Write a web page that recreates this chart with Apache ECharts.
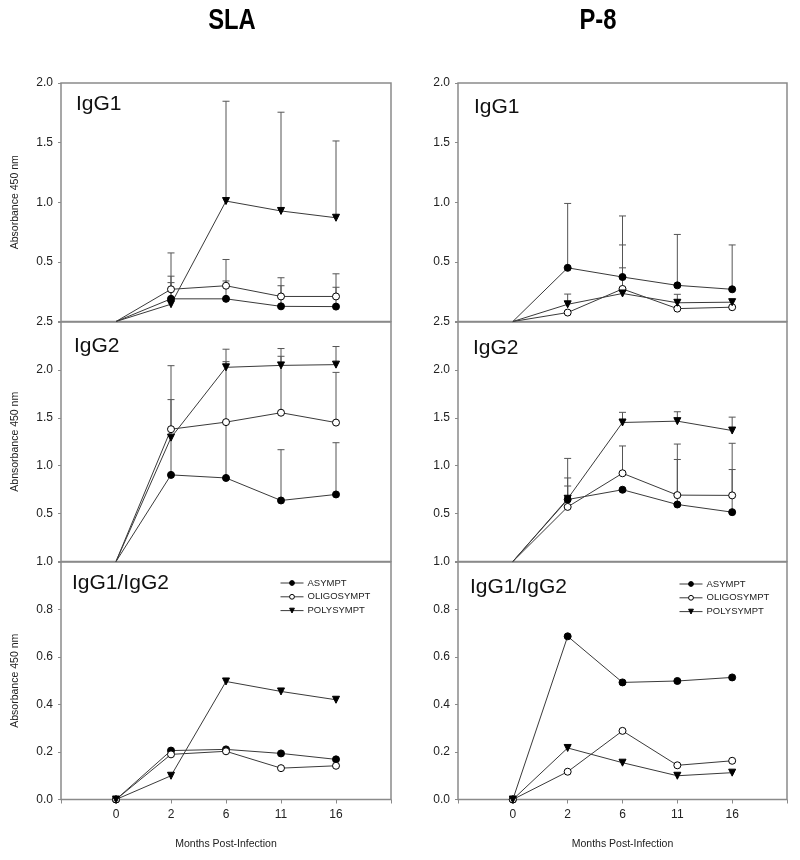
<!DOCTYPE html>
<html>
<head>
<meta charset="utf-8">
<script src="https://cdn.jsdelivr.net/npm/echarts@6/dist/echarts.min.js"></script>
<style>
html,body{margin:0;padding:0;background:#fff;}
#chart{width:800px;height:860px;}
</style>
</head>
<body>
<div id="chart"></div>
<script>
// ---------------- DATA ----------------
const monthLabels = ['0', '2', '6', '11', '16'];
const groupNames = ['ASYMPT', 'OLIGOSYMPT', 'POLYSYMPT'];
const columnTitles = ['SLA', 'P-8'];
const panelLabels = ['IgG1', 'IgG2', 'IgG1/IgG2'];

// SLA IgG1 (means, upper error magnitudes)
const slaIgG1Asympt = [0, 0.19, 0.19, 0.127, 0.125];
const slaIgG1Oligo  = [0, 0.27, 0.30, 0.21, 0.21];
const slaIgG1Poly   = [0, 0.145, 1.01, 0.927, 0.87];
const slaIgG1AsymptErr = [null, 0.19, 0.15, 0.173, 0.162];
const slaIgG1OligoErr  = [null, 0.305, 0.22, 0.157, 0.19];
const slaIgG1PolyErr   = [null, 0.181, 0.837, 0.828, 0.644];

// P-8 IgG1
const p8IgG1Asympt = [0, 0.45, 0.373, 0.303, 0.27];
const p8IgG1Oligo  = [0, 0.075, 0.273, 0.108, 0.12];
const p8IgG1Poly   = [0, 0.144, 0.235, 0.157, 0.162];
const p8IgG1AsymptErr = [null, 0.54, 0.512, 0.427, 0.372];
const p8IgG1OligoErr  = [null, null, 0.369, null, null];
const p8IgG1PolyErr   = [null, 0.086, 0.215, 0.071, null];

// SLA IgG2
const slaIgG2Asympt = [0, 0.904, 0.872, 0.637, 0.70];
const slaIgG2Oligo  = [0, 1.381, 1.455, 1.553, 1.45];
const slaIgG2Poly   = [0, 1.293, 2.027, 2.047, 2.055];
const slaIgG2AsymptErr = [null, 0.786, 1.214, 0.53, 0.54];
const slaIgG2OligoErr  = [null, 0.663, null, 0.589, 0.524];
const slaIgG2PolyErr   = [null, null, 0.189, 0.176, 0.189];

// P-8 IgG2
const p8IgG2Asympt = [0, 0.647, 0.749, 0.595, 0.515];
const p8IgG2Oligo  = [0, 0.57, 0.921, 0.693, 0.69];
const p8IgG2Poly   = [0, 0.655, 1.451, 1.465, 1.367];
const p8IgG2AsymptErr = [null, 0.429, null, 0.47, 0.445];
const p8IgG2OligoErr  = [null, 0.218, 0.285, 0.533, 0.544];
const p8IgG2PolyErr   = [null, 0.217, 0.106, 0.098, 0.14];

// IgG1/IgG2 ratio
const slaRatioAsympt = [0, 0.206, 0.211, 0.194, 0.169];
const slaRatioOligo  = [0, 0.19, 0.203, 0.132, 0.142];
const slaRatioPoly   = [0, 0.10, 0.497, 0.455, 0.42];
const p8RatioAsympt  = [0, 0.687, 0.493, 0.499, 0.514];
const p8RatioOligo   = [0, 0.117, 0.289, 0.144, 0.163];
const p8RatioPoly    = [0, 0.217, 0.155, 0.10, 0.113];

// y-axis tick settings per row
const rowYMax = [2.0, 2.5, 1.0];
const rowYStep = [0.5, 0.5, 0.2];
const yAxisNames = ['Absorbance 450 nm', 'Abnsorbance 450 nm', 'Absorbance 450 nm'];
const xAxisName = 'Months Post-Infection';

// ---------------- LAYOUT / STYLE ----------------
const FONT = "'Liberation Sans', Arial, Helvetica, sans-serif";
const colLeft = [61, 458];
const colWidth = [330, 329];
const rowTop = [83, 322, 562];
const rowHeight = [238.5, 239.5, 237.5];
const labelPos = [
  [[76, 104.5], [474, 107]],
  [[74, 346], [473, 348]],
  [[72, 583.5], [470, 587]]
];
const titleCenters = [232, 598];
const legendLeft = [280, 679];
const legendTop = [578, 579];

const lineColor = '#3a3a3a';
const errColor = '#555';
const frameColor = '#8a8a8a';
const symbolStyles = [
  { symbol: 'circle', size: 7, rotate: 0, fill: '#000' },
  { symbol: 'circle', size: 7, rotate: 0, fill: '#fff' },
  { symbol: 'triangle', size: 7, rotate: 180, fill: '#000' }
];

const panelData = [
  [ // row 0
    { means: [slaIgG1Asympt, slaIgG1Oligo, slaIgG1Poly], errs: [slaIgG1AsymptErr, slaIgG1OligoErr, slaIgG1PolyErr] },
    { means: [p8IgG1Asympt, p8IgG1Oligo, p8IgG1Poly], errs: [p8IgG1AsymptErr, p8IgG1OligoErr, p8IgG1PolyErr] }
  ],
  [ // row 1
    { means: [slaIgG2Asympt, slaIgG2Oligo, slaIgG2Poly], errs: [slaIgG2AsymptErr, slaIgG2OligoErr, slaIgG2PolyErr] },
    { means: [p8IgG2Asympt, p8IgG2Oligo, p8IgG2Poly], errs: [p8IgG2AsymptErr, p8IgG2OligoErr, p8IgG2PolyErr] }
  ],
  [ // row 2
    { means: [slaRatioAsympt, slaRatioOligo, slaRatioPoly], errs: null },
    { means: [p8RatioAsympt, p8RatioOligo, p8RatioPoly], errs: null }
  ]
];

// ---------------- BUILD OPTION ----------------
const grids = [], xAxes = [], yAxes = [], series = [], graphics = [], legends = [];
let gi = 0;
for (let r = 0; r < 3; r++) {
  for (let c = 0; c < 2; c++) {
    const isBottom = r === 2;
    grids.push({
      left: colLeft[c], top: rowTop[r], width: colWidth[c], height: rowHeight[r],
      show: true, borderColor: frameColor, borderWidth: 1.5, backgroundColor: 'transparent'
    });
    xAxes.push({
      gridIndex: gi, type: 'value', min: -1, max: monthLabels.length, interval: 1,
      axisLine: { show: false, onZero: false },
      splitLine: { show: false },
      axisTick: { show: isBottom, inside: false, length: 4, lineStyle: { color: frameColor, width: 1 } },
      axisLabel: {
        show: isBottom, margin: 9, color: '#222', fontSize: 12, fontFamily: FONT,
        formatter: v => (v >= 0 && v < monthLabels.length) ? monthLabels[v] : ''
      },
      name: isBottom ? xAxisName : '',
      nameLocation: 'middle', nameGap: 39,
      nameTextStyle: { color: '#222', fontSize: 10.5, fontFamily: FONT }
    });
    yAxes.push({
      gridIndex: gi, type: 'value', min: 0, max: rowYMax[r], interval: rowYStep[r],
      axisLine: { show: false, onZero: false },
      splitLine: { show: false },
      axisTick: { show: true, inside: false, length: 3, lineStyle: { color: frameColor, width: 1 } },
      axisLabel: {
        margin: 8, color: '#222', fontSize: 12, fontFamily: FONT,
        formatter: v => (r < 2 && v === 0) ? '' : v.toFixed(1)
      },
      name: c === 0 ? yAxisNames[r] : '',
      nameLocation: 'middle', nameGap: 40, nameRotate: 90,
      nameTextStyle: { color: '#222', fontSize: 10.5, fontFamily: FONT }
    });
    const pd = panelData[r][c];
    for (let s = 0; s < 3; s++) {
      const st = symbolStyles[s];
      const means = pd.means[s];
      // error bars (upper only)
      if (pd.errs) {
        const errData = [];
        pd.errs[s].forEach((e, i) => {
          if (e !== null) errData.push([i, means[i], means[i] + e]);
        });
        series.push({
          type: 'custom', xAxisIndex: gi, yAxisIndex: gi, z: 1, silent: true,
          encode: { x: 0, y: [1, 2] },
          data: errData,
          renderItem: (params, api) => {
            const p1 = api.coord([api.value(0), api.value(1)]);
            const p2 = api.coord([api.value(0), api.value(2)]);
            return {
              type: 'group',
              children: [
                { type: 'line', shape: { x1: p1[0], y1: p1[1], x2: p2[0], y2: p2[1] }, style: { stroke: errColor, lineWidth: 1 } },
                { type: 'line', shape: { x1: p2[0] - 3.5, y1: p2[1], x2: p2[0] + 3.5, y2: p2[1] }, style: { stroke: errColor, lineWidth: 1 } }
              ]
            };
          }
        });
      }
      series.push({
        type: 'line', name: groupNames[s], xAxisIndex: gi, yAxisIndex: gi, z: 3,
        symbol: st.symbol, symbolSize: st.size, symbolRotate: st.rotate,
        showAllSymbol: true, clip: false, animation: false,
        lineStyle: { color: lineColor, width: 1 },
        itemStyle: { color: st.fill, borderColor: '#000', borderWidth: 1 },
        data: means.map((v, i) => (i === 0 && !isBottom) ? { value: [i, v], symbol: 'none' } : [i, v])
      });
    }
    // panel label
    graphics.push({
      type: 'text', x: labelPos[r][c][0], y: labelPos[r][c][1], z: 10,
      style: { text: panelLabels[r], font: '21px ' + FONT, fill: '#111', align: 'left', verticalAlign: 'middle' }
    });
    if (isBottom) {
      legends.push({
        data: groupNames, orient: 'vertical', left: legendLeft[c], top: legendTop[c],
        itemWidth: 23, itemHeight: 6, itemGap: 3.8, padding: 0, selectedMode: false,
        lineStyle: { width: 1, color: lineColor },
        itemStyle: { borderWidth: 1, borderColor: '#000' },
        textStyle: { fontSize: 9.5, color: '#222', fontFamily: FONT, lineHeight: 9, padding: [0, 0, 0, -1] }
      });
    }
    gi++;
  }
}
columnTitles.forEach((t, c) => {
  graphics.push({
    type: 'text', x: titleCenters[c], y: 21, z: 10, scaleX: 0.82,
    style: { text: t, font: "bold 29px " + FONT, fill: '#000', align: 'center', verticalAlign: 'middle' }
  });
});

const chart = echarts.init(document.getElementById('chart'), null, { renderer: 'canvas' });
chart.setOption({
  animation: false,
  backgroundColor: '#fff',
  textStyle: { fontFamily: FONT },
  grid: grids, xAxis: xAxes, yAxis: yAxes,
  legend: legends,
  series: series,
  graphic: graphics
});
</script>
</body>
</html>
